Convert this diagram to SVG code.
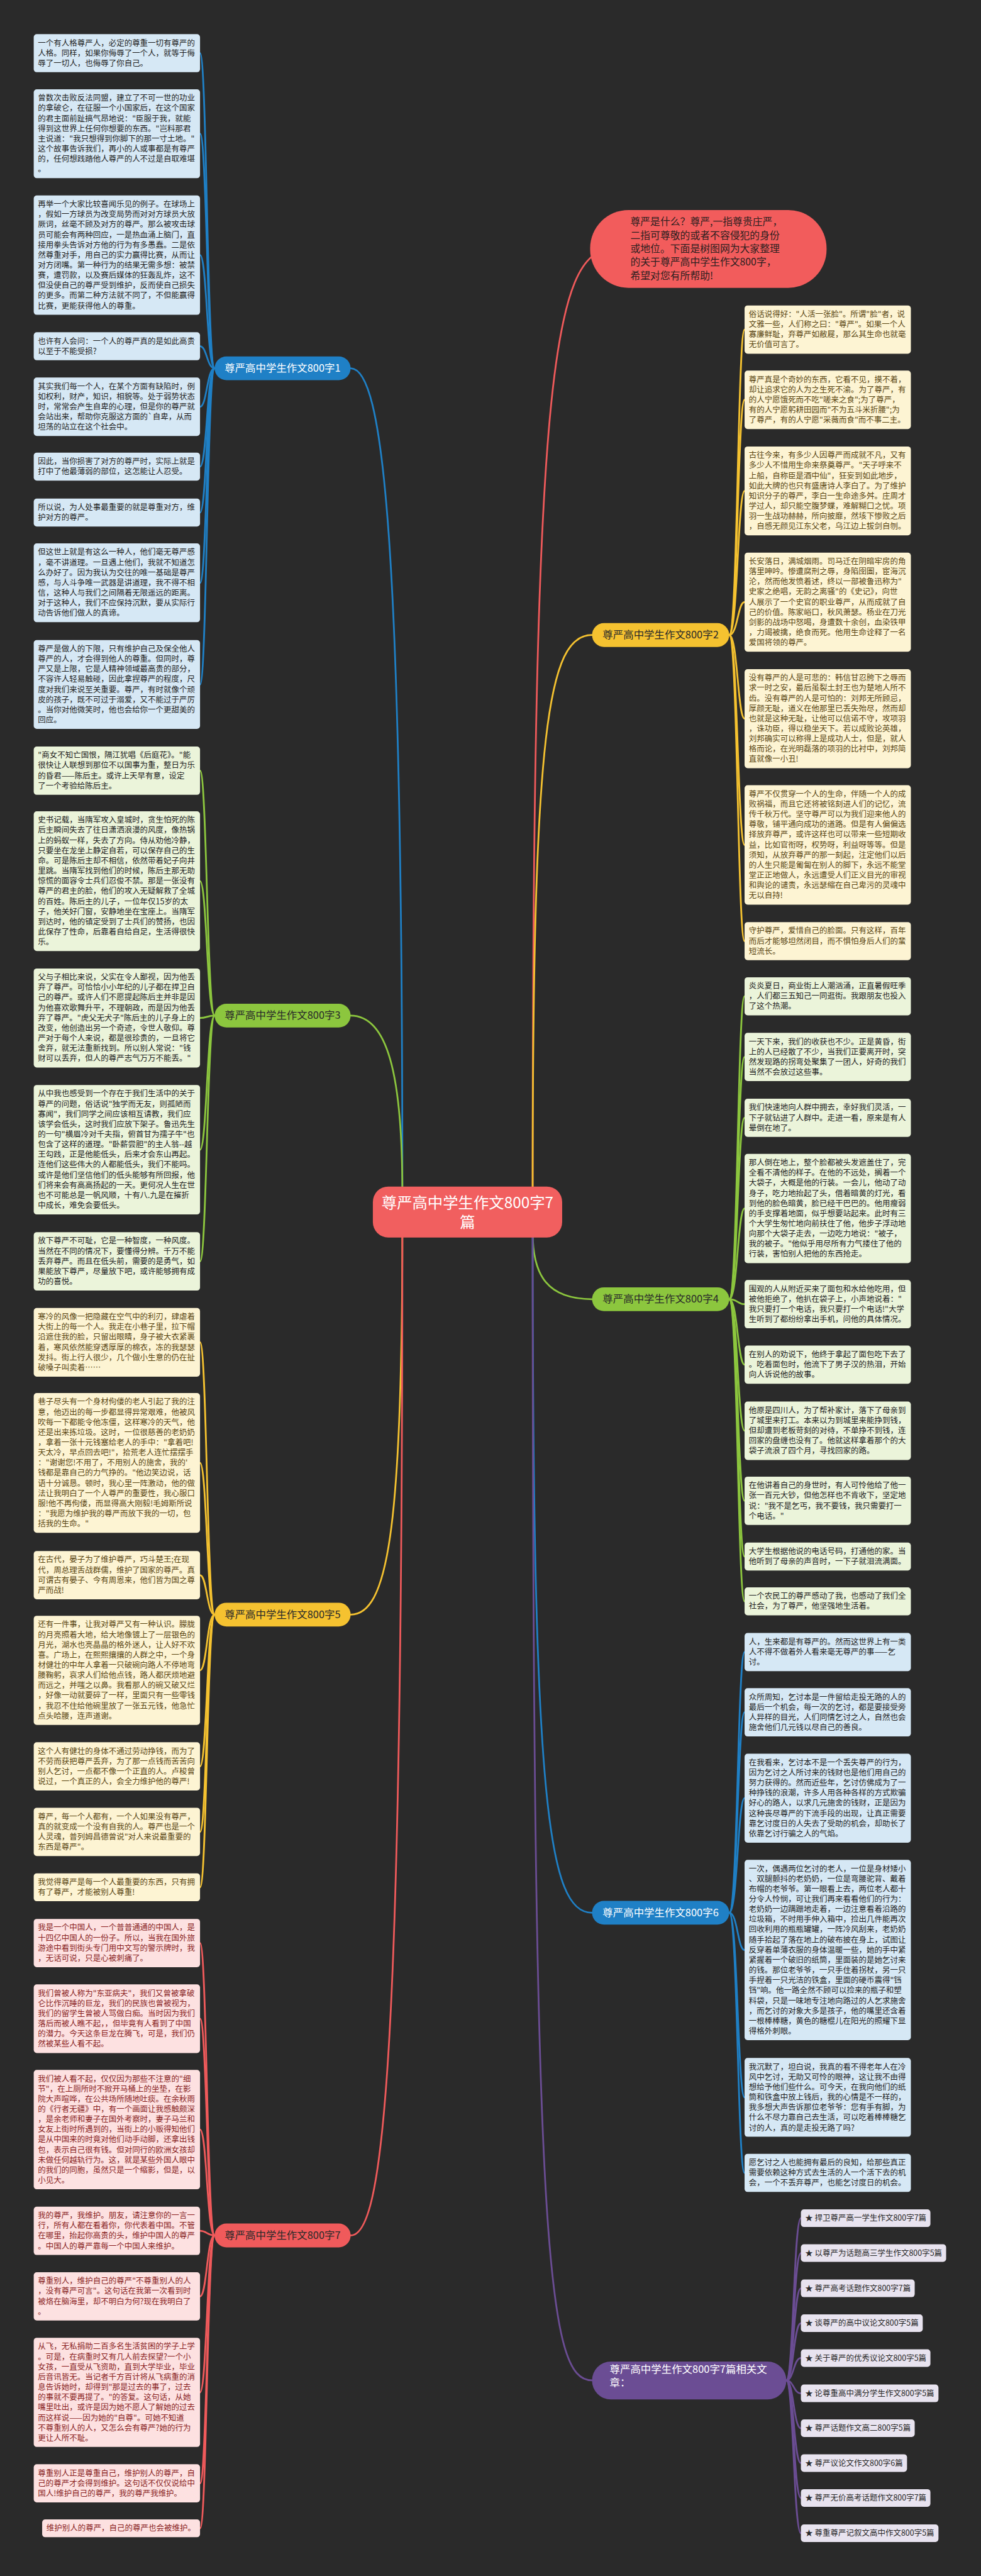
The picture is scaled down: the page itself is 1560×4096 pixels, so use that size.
<svg xmlns="http://www.w3.org/2000/svg" width="1560" height="4096" viewBox="0 0 1560 4096">
<style>
.t{font-family:"Noto Sans CJK SC","Noto Sans",sans-serif;font-size:20.5px}
.lab{font-family:"Noto Sans CJK SC","Noto Sans",sans-serif;font-size:27px}
.b{fill:#d6e8f5}.g{fill:#ebf4da}.y{fill:#fdf4d3}.r{fill:#fde1e1}.p{fill:#e8e3ef}
.tb{fill:#1f1f1f}.tg{fill:#222222}.ty{fill:#5a4612}.tr{fill:#8a1f1f}.tp{fill:#2a2a2a}
.c{fill:none;stroke-width:4.5;stroke-linecap:round}
.cb{stroke:#1f80c6}.cg{stroke:#8cc63e}.cy{stroke:#f5c230}.cr{stroke:#f05a5b}.cp{stroke:#6b4d94}
</style>
<rect width="1560" height="4096" fill="#2a2a2a"/>
<g transform="scale(0.609375)">
<g id="connectors">
<path class="c cb" d="M1050,3110 C1050,1400 1000,961 915,961"/>
<path class="c cg" d="M1050,3110 C1050,2800 1010,2650 915,2650"/>
<path class="c cy" d="M1050,3215 C1050,4000 1010,4213 915,4213"/>
<path class="c cr" d="M1050,3215 C1050,5400 1000,5833 915,5833"/>
<path class="c cr" d="M1390,3110 C1390,1000 1440,650 1600,650"/>
<path class="c cy" d="M1390,3110 C1390,1900 1430,1657 1545,1657"/>
<path class="c cg" d="M1390,3215 C1390,3330 1430,3390 1545,3390"/>
<path class="c cb" d="M1390,3215 C1390,4700 1430,4991 1545,4991"/>
<path class="c cp" d="M1390,3215 C1390,5900 1430,6211 1545,6211"/>
<path class="c cb" d="M560,961 C540,961 540,138.75 522,138.75"/>
<path class="c cb" d="M560,961 C540,961 540,349 522,349"/>
<path class="c cb" d="M560,961 C540,961 540,665.75 522,665.75"/>
<path class="c cb" d="M560,961 C540,961 540,903.5 522,903.5"/>
<path class="c cb" d="M560,961 C540,961 540,1061.25 522,1061.25"/>
<path class="c cb" d="M560,961 C540,961 540,1217.5 522,1217.5"/>
<path class="c cb" d="M560,961 C540,961 540,1337.5 522,1337.5"/>
<path class="c cb" d="M560,961 C540,961 540,1520.75 522,1520.75"/>
<path class="c cb" d="M560,961 C540,961 540,1786 522,1786"/>
<path class="c cg" d="M560,2650 C540,2650 540,2011 522,2011"/>
<path class="c cg" d="M560,2650 C540,2650 540,2299.25 522,2299.25"/>
<path class="c cg" d="M560,2650 C540,2650 540,2656.25 522,2656.25"/>
<path class="c cg" d="M560,2650 C540,2650 540,3000 522,3000"/>
<path class="c cg" d="M560,2650 C540,2650 540,3291.25 522,3291.25"/>
<path class="c cy" d="M560,4213 C540,4213 540,3502.5 522,3502.5"/>
<path class="c cy" d="M560,4213 C540,4213 540,3817.25 522,3817.25"/>
<path class="c cy" d="M560,4213 C540,4213 540,4110 522,4110"/>
<path class="c cy" d="M560,4213 C540,4213 540,4358.5 522,4358.5"/>
<path class="c cy" d="M560,4213 C540,4213 540,4609 522,4609"/>
<path class="c cy" d="M560,4213 C540,4213 540,4780 522,4780"/>
<path class="c cy" d="M560,4213 C540,4213 540,4924.5 522,4924.5"/>
<path class="c cr" d="M560,5833 C540,5833 540,5070 522,5070"/>
<path class="c cr" d="M560,5833 C540,5833 540,5267.5 522,5267.5"/>
<path class="c cr" d="M560,5833 C540,5833 540,5556.75 522,5556.75"/>
<path class="c cr" d="M560,5833 C540,5833 540,5821 522,5821"/>
<path class="c cr" d="M560,5833 C540,5833 540,5992 522,5992"/>
<path class="c cr" d="M560,5833 C540,5833 540,6242.5 522,6242.5"/>
<path class="c cr" d="M560,5833 C540,5833 540,6479.75 522,6479.75"/>
<path class="c cr" d="M560,5833 C540,5833 540,6597.25 522,6597.25"/>
<path class="c cy" d="M1903,1657 C1925,1657 1925,860 1943,860"/>
<path class="c cy" d="M1903,1657 C1925,1657 1925,1043.25 1943,1043.25"/>
<path class="c cy" d="M1903,1657 C1925,1657 1925,1281 1943,1281"/>
<path class="c cy" d="M1903,1657 C1925,1657 1925,1571.25 1943,1571.25"/>
<path class="c cy" d="M1903,1657 C1925,1657 1925,1875.25 1943,1875.25"/>
<path class="c cy" d="M1903,1657 C1925,1657 1925,2204.75 1943,2204.75"/>
<path class="c cy" d="M1903,1657 C1925,1657 1925,2455.75 1943,2455.75"/>
<path class="c cg" d="M1903,3390 C1925,3390 1925,2599.75 1943,2599.75"/>
<path class="c cg" d="M1903,3390 C1925,3390 1925,2758 1943,2758"/>
<path class="c cg" d="M1903,3390 C1925,3390 1925,2916.75 1943,2916.75"/>
<path class="c cg" d="M1903,3390 C1925,3390 1925,3153.5 1943,3153.5"/>
<path class="c cg" d="M1903,3390 C1925,3390 1925,3403 1943,3403"/>
<path class="c cg" d="M1903,3390 C1925,3390 1925,3560.75 1943,3560.75"/>
<path class="c cg" d="M1903,3390 C1925,3390 1925,3733.25 1943,3733.25"/>
<path class="c cg" d="M1903,3390 C1925,3390 1925,3916 1943,3916"/>
<path class="c cg" d="M1903,3390 C1925,3390 1925,4061.5 1943,4061.5"/>
<path class="c cg" d="M1903,3390 C1925,3390 1925,4178.5 1943,4178.5"/>
<path class="c cb" d="M1903,4991 C1925,4991 1925,4310.75 1943,4310.75"/>
<path class="c cb" d="M1903,4991 C1925,4991 1925,4468 1943,4468"/>
<path class="c cb" d="M1903,4991 C1925,4991 1925,4692 1943,4692"/>
<path class="c cb" d="M1903,4991 C1925,4991 1925,5088.25 1943,5088.25"/>
<path class="c cb" d="M1903,4991 C1925,4991 1925,5472.75 1943,5472.75"/>
<path class="c cb" d="M1903,4991 C1925,4991 1925,5669.75 1943,5669.75"/>
<path class="c cp" d="M2052,6211 C2071,6211 2071,5788 2090,5788"/>
<path class="c cp" d="M2052,6211 C2071,6211 2071,5879 2090,5879"/>
<path class="c cp" d="M2052,6211 C2071,6211 2071,5971 2090,5971"/>
<path class="c cp" d="M2052,6211 C2071,6211 2071,6062 2090,6062"/>
<path class="c cp" d="M2052,6211 C2071,6211 2071,6153 2090,6153"/>
<path class="c cp" d="M2052,6211 C2071,6211 2071,6245 2090,6245"/>
<path class="c cp" d="M2052,6211 C2071,6211 2071,6336 2090,6336"/>
<path class="c cp" d="M2052,6211 C2071,6211 2071,6427 2090,6427"/>
<path class="c cp" d="M2052,6211 C2071,6211 2071,6518 2090,6518"/>
<path class="c cp" d="M2052,6211 C2071,6211 2071,6610 2090,6610"/>
</g>

<g id="center"><rect x="973" y="3096" width="494" height="133" rx="40" fill="#f15f5f"/>
<text x="1220" y="3153" font-family="Noto Sans CJK SC, sans-serif" font-size="40" fill="#ffffff" text-anchor="middle"><tspan x="1220">尊严高中学生作文800字7</tspan><tspan x="1220" dy="51">篇</tspan></text></g>

<g id="intro"><rect x="1540" y="548" width="617" height="203" rx="100" fill="#f25c5c"/>
<text class="lab" style="font-size:26px" fill="#2d2020" x="1645" y="588"><tspan x="1645">尊严是什么？尊严,一指尊贵庄严，</tspan><tspan x="1645" dy="35">二指可尊敬的或者不容侵犯的身份</tspan><tspan x="1645" dy="35">或地位。下面是树图网为大家整理</tspan><tspan x="1645" dy="35">的关于尊严高中学生作文800字，</tspan><tspan x="1645" dy="35">希望对您有所帮助!</tspan></text></g>

<g id="b1"><rect x="560" y="930" width="355" height="62" rx="31" fill="#1f80c6"/><text class="lab" x="737.5" y="970" text-anchor="middle" fill="#ffffff">尊严高中学生作文800字1</text></g>
<g id="b3"><rect x="560" y="2619" width="355" height="62" rx="31" fill="#8cc63e"/><text class="lab" x="737.5" y="2659" text-anchor="middle" fill="#2a2a2a">尊严高中学生作文800字3</text></g>
<g id="b5"><rect x="560" y="4182" width="355" height="62" rx="31" fill="#f5c230"/><text class="lab" x="737.5" y="4222" text-anchor="middle" fill="#2a2a2a">尊严高中学生作文800字5</text></g>
<g id="b7"><rect x="560" y="5802" width="355" height="62" rx="31" fill="#f05a5b"/><text class="lab" x="737.5" y="5842" text-anchor="middle" fill="#2a2a2a">尊严高中学生作文800字7</text></g>
<g id="b2"><rect x="1545" y="1626" width="358" height="62" rx="31" fill="#f5c230"/><text class="lab" x="1724" y="1666" text-anchor="middle" fill="#2a2a2a">尊严高中学生作文800字2</text></g>
<g id="b4"><rect x="1545" y="3359" width="358" height="62" rx="31" fill="#8cc63e"/><text class="lab" x="1724" y="3399" text-anchor="middle" fill="#2a2a2a">尊严高中学生作文800字4</text></g>
<g id="b6"><rect x="1545" y="4960" width="358" height="62" rx="31" fill="#1f80c6"/><text class="lab" x="1724" y="5000" text-anchor="middle" fill="#ffffff">尊严高中学生作文800字6</text></g>
<g id="brel"><rect x="1545" y="6162" width="507" height="99" rx="49" fill="#6b4d94"/><text class="lab" x="1591" y="6191" fill="#ffffff"><tspan x="1591">尊严高中学生作文800字7篇相关文</tspan><tspan x="1591" dy="35">章：</tspan></text></g>

<g id="l1-1"><rect class="b" x="88" y="89" width="434" height="99.5" rx="8"/><text class="t tb" x="99" y="119"><tspan x="99">一个有人格尊严人，必定的尊重一切有尊严的</tspan><tspan x="99" dy="26.5">人格。同样，如果你侮辱了一个人，就等于侮</tspan><tspan x="99" dy="26.5">辱了一切人，也侮辱了你自己。</tspan></text></g>
<g id="l1-2"><rect class="b" x="88" y="233" width="434" height="232" rx="8"/><text class="t tb" x="99" y="263"><tspan x="99">曾数次击败反法同盟，建立了不可一世的功业</tspan><tspan x="99" dy="26.5">的拿破仑，在征服一个小国家后，在这个国家</tspan><tspan x="99" dy="26.5">的君主面前趾搞气昂地说："臣服于我，就能</tspan><tspan x="99" dy="26.5">得到这世界上任何你想要的东西。"岂料那君</tspan><tspan x="99" dy="26.5">主说道："我只想得到你脚下的那一寸土地。"</tspan><tspan x="99" dy="26.5">这个故事告诉我们，再小的人或事都是有尊严</tspan><tspan x="99" dy="26.5">的，任何想践踏他人尊严的人不过是自取难堪</tspan><tspan x="99" dy="26.5">。</tspan></text></g>
<g id="l1-3"><rect class="b" x="88" y="510" width="434" height="311.5" rx="8"/><text class="t tb" x="99" y="540"><tspan x="99">再举一个大家比较喜闻乐见的例子。在球场上</tspan><tspan x="99" dy="26.5">，假如一方球员为改变局势而对对方球员大放</tspan><tspan x="99" dy="26.5">厥词，丝毫不顾及对方的尊严。那么被攻击球</tspan><tspan x="99" dy="26.5">员可能会有两种回应，一是热血涌上脑门，直</tspan><tspan x="99" dy="26.5">接用拳头告诉对方他的行为有多愚蠢。二是依</tspan><tspan x="99" dy="26.5">然尊重对手，用自己的实力赢得比赛，从而让</tspan><tspan x="99" dy="26.5">对方闭嘴。第一种行为的结果无需多想：被禁</tspan><tspan x="99" dy="26.5">赛，遭罚款，以及赛后媒体的狂轰乱炸，这不</tspan><tspan x="99" dy="26.5">但没使自己的尊严受到维护，反而使自己损失</tspan><tspan x="99" dy="26.5">的更多。而第二种方法就不同了，不但能赢得</tspan><tspan x="99" dy="26.5">比赛，更能获得他人的尊重。</tspan></text></g>
<g id="l1-4"><rect class="b" x="88" y="867" width="434" height="73" rx="8"/><text class="t tb" x="99" y="897"><tspan x="99">也许有人会问：一个人的尊严真的是如此高贵</tspan><tspan x="99" dy="26.5">以至于不能受损?</tspan></text></g>
<g id="l1-5"><rect class="b" x="88" y="985" width="434" height="152.5" rx="8"/><text class="t tb" x="99" y="1015"><tspan x="99">其实我们每一个人，在某个方面有缺陷时，例</tspan><tspan x="99" dy="26.5">如权利，财产，知识，相貌等。处于弱势状态</tspan><tspan x="99" dy="26.5">时，常常会产生自卑的心理，但是你的尊严就</tspan><tspan x="99" dy="26.5">会站出来，帮助你克服这方面的`自卑，从而</tspan><tspan x="99" dy="26.5">坦荡的站立在这个社会中。</tspan></text></g>
<g id="l1-6"><rect class="b" x="88" y="1181" width="434" height="73" rx="8"/><text class="t tb" x="99" y="1211"><tspan x="99">因此，当你损害了对方的尊严时，实际上就是</tspan><tspan x="99" dy="26.5">打中了他最薄弱的部位，这怎能让人忍受。</tspan></text></g>
<g id="l1-7"><rect class="b" x="88" y="1301" width="434" height="73" rx="8"/><text class="t tb" x="99" y="1331"><tspan x="99">所以说，为人处事最重要的就是尊重对方，维</tspan><tspan x="99" dy="26.5">护对方的尊严。</tspan></text></g>
<g id="l1-8"><rect class="b" x="88" y="1418" width="434" height="205.5" rx="8"/><text class="t tb" x="99" y="1448"><tspan x="99">但这世上就是有这么一种人，他们毫无尊严感</tspan><tspan x="99" dy="26.5">，毫不讲道理。一旦遇上他们，我就不知道怎</tspan><tspan x="99" dy="26.5">么办好了。因为我认为交往的唯一基础是尊严</tspan><tspan x="99" dy="26.5">感，与人斗争唯一武器是讲道理，我不得不相</tspan><tspan x="99" dy="26.5">信，这种人与我们之间隔着无限遥远的距离。</tspan><tspan x="99" dy="26.5">对于这种人，我们不应保持沉默，要从实际行</tspan><tspan x="99" dy="26.5">动告诉他们做人的真谛。</tspan></text></g>
<g id="l1-9"><rect class="b" x="88" y="1670" width="434" height="232" rx="8"/><text class="t tb" x="99" y="1700"><tspan x="99">尊严是做人的下限，只有维护自己及保全他人</tspan><tspan x="99" dy="26.5">尊严的人，才会得到他人的尊重。但同时，尊</tspan><tspan x="99" dy="26.5">严又是上限，它是人精神领域最高贵的部分，</tspan><tspan x="99" dy="26.5">不容许人轻易触碰，因此拿捏尊严的程度，尺</tspan><tspan x="99" dy="26.5">度对我们来说至关重要。尊严，有时就像个顽</tspan><tspan x="99" dy="26.5">皮的孩子，既不可过于溺爱，又不能过于严厉</tspan><tspan x="99" dy="26.5">。当你对他微笑时，他也会给你一个更甜美的</tspan><tspan x="99" dy="26.5">回应。</tspan></text></g>

<g id="l3-1"><rect class="g" x="88" y="1948" width="434" height="126" rx="8"/><text class="t tg" x="99" y="1978"><tspan x="99">"商女不知亡国恨，隔江犹唱《后庭花》。"能</tspan><tspan x="99" dy="26.5">很快让人联想到那位不以国事为重，整日为乐</tspan><tspan x="99" dy="26.5">的昏君——陈后主。或许上天早有意，设定</tspan><tspan x="99" dy="26.5">了一个考验给陈后主。</tspan></text></g>
<g id="l3-2"><rect class="g" x="88" y="2117" width="434" height="364.5" rx="8"/><text class="t tg" x="99" y="2147"><tspan x="99">史书记载，当隋军攻入皇城时，贪生怕死的陈</tspan><tspan x="99" dy="26.5">后主瞬间失去了往日潇洒浪漫的风度，像热锅</tspan><tspan x="99" dy="26.5">上的蚂蚁一样，失去了方向。侍从劝他冷静，</tspan><tspan x="99" dy="26.5">只要坐在龙坐上静定自若，可以保存自己的生</tspan><tspan x="99" dy="26.5">命。可是陈后主却不相信，依然带着妃子向井</tspan><tspan x="99" dy="26.5">里跳。当隋军找到他们的时候，陈后主那无助</tspan><tspan x="99" dy="26.5">惊慌的面容令士兵们忍俊不禁。那是一张没有</tspan><tspan x="99" dy="26.5">尊严的君主的脸，他们的攻入无疑解救了全城</tspan><tspan x="99" dy="26.5">的百姓。陈后主的儿子，一位年仅15岁的太</tspan><tspan x="99" dy="26.5">子，他关好门窗，安静地坐在宝座上。当隋军</tspan><tspan x="99" dy="26.5">到达时，他的镇定受到了士兵们的赞扬，也因</tspan><tspan x="99" dy="26.5">此保存了性命，后靠着自给自足，生活得很快</tspan><tspan x="99" dy="26.5">乐。</tspan></text></g>
<g id="l3-3"><rect class="g" x="88" y="2527" width="434" height="258.5" rx="8"/><text class="t tg" x="99" y="2557"><tspan x="99">父与子相比来说，父实在令人鄙视，因为他丢</tspan><tspan x="99" dy="26.5">弃了尊严。可恰恰小小年纪的儿子都在捍卫自</tspan><tspan x="99" dy="26.5">己的尊严。或许人们不愿提起陈后主并非是因</tspan><tspan x="99" dy="26.5">为他喜欢歌舞升平，不理朝政，而是因为他丢</tspan><tspan x="99" dy="26.5">弃了尊严。"虎父无犬子"陈后主的儿子身上的</tspan><tspan x="99" dy="26.5">改变，他创造出另一个奇迹，令世人敬仰。尊</tspan><tspan x="99" dy="26.5">严对于每个人来说，都是很珍贵的，一旦将它</tspan><tspan x="99" dy="26.5">舍弃，就无法重新找到。所以别人常说："钱</tspan><tspan x="99" dy="26.5">财可以丢弃，但人的尊严志气万万不能丢。"</tspan></text></g>
<g id="l3-4"><rect class="g" x="88" y="2831" width="434" height="338" rx="8"/><text class="t tg" x="99" y="2861"><tspan x="99">从中我也感受到一个存在于我们生活中的关于</tspan><tspan x="99" dy="26.5">尊严的问题，俗话说"独学而无友，则孤陋而</tspan><tspan x="99" dy="26.5">寡闻"，我们同学之间应该相互请教，我们应</tspan><tspan x="99" dy="26.5">该学会低头，这时我们应放下架子。鲁迅先生</tspan><tspan x="99" dy="26.5">的一句"横眉冷对千夫指，俯首甘为孺子牛"也</tspan><tspan x="99" dy="26.5">包含了这样的道理。"卧薪尝胆"的主人翁--越</tspan><tspan x="99" dy="26.5">王勾践，正是他能低头，后来才会东山再起。</tspan><tspan x="99" dy="26.5">连他们这些伟大的人都能低头，我们不能吗。</tspan><tspan x="99" dy="26.5">或许是他们坚信他们的低头能够有所回报，他</tspan><tspan x="99" dy="26.5">们将来会有高高扬起的一天。更何况人生在世</tspan><tspan x="99" dy="26.5">也不可能总是一帆风顺，十有八.九是在摧折</tspan><tspan x="99" dy="26.5">中成长，难免会要低头。</tspan></text></g>
<g id="l3-5"><rect class="g" x="88" y="3215" width="434" height="152.5" rx="8"/><text class="t tg" x="99" y="3245"><tspan x="99">放下尊严不可耻，它是一种智度，一种风度。</tspan><tspan x="99" dy="26.5">当然在不同的情况下，要懂得分辨。千万不能</tspan><tspan x="99" dy="26.5">丢弃尊严。而且在低头前，需要的是勇气，如</tspan><tspan x="99" dy="26.5">果能放下尊严，尽量放下吧，或许能够拥有成</tspan><tspan x="99" dy="26.5">功的喜悦。</tspan></text></g>

<g id="l5-1"><rect class="y" x="88" y="3413" width="434" height="179" rx="8"/><text class="t ty" x="99" y="3443"><tspan x="99">寒冷的风像一把隐藏在空气中的利刃，肆虐着</tspan><tspan x="99" dy="26.5">大街上的每一个人。我走在小巷子里，拉下帽</tspan><tspan x="99" dy="26.5">沿遮住我的脸，只留出眼睛，身子被大衣紧裹</tspan><tspan x="99" dy="26.5">着，寒风依然能穿透厚厚的棉衣，冻的我瑟瑟</tspan><tspan x="99" dy="26.5">发抖。街上行人很少，几个做小生意的仍在扯</tspan><tspan x="99" dy="26.5">破嗓子叫卖着……</tspan></text></g>
<g id="l5-2"><rect class="y" x="88" y="3635" width="434" height="364.5" rx="8"/><text class="t ty" x="99" y="3665"><tspan x="99">巷子尽头有一个身材佝偻的老人引起了我的注</tspan><tspan x="99" dy="26.5">意，他迈出的每一步都显得异常艰难，他被风</tspan><tspan x="99" dy="26.5">吹每一下都能令他冻僵，这样寒冷的天气，他</tspan><tspan x="99" dy="26.5">还是出来拣垃圾。这时，一位很慈善的老奶奶</tspan><tspan x="99" dy="26.5">，拿着一张十元钱塞给老人的手中："拿着吧!</tspan><tspan x="99" dy="26.5">天太冷，早点回去吧!"，拾荒老人连忙摆摆手</tspan><tspan x="99" dy="26.5">："谢谢您!不用了，不用别人的施舍，我的'</tspan><tspan x="99" dy="26.5">钱都是靠自己的力气挣的。"他边笑边说，话</tspan><tspan x="99" dy="26.5">语十分诚恳。顿时，我心里一阵激动，他的做</tspan><tspan x="99" dy="26.5">法让我明白了一个人尊严的重要性，我心服口</tspan><tspan x="99" dy="26.5">服!他不再佝偻，而显得高大刚毅!毛姆斯所说</tspan><tspan x="99" dy="26.5">："我愿为维护我的尊严而放下我的一切，包</tspan><tspan x="99" dy="26.5">括我的生命。"</tspan></text></g>
<g id="l5-3"><rect class="y" x="88" y="4047" width="434" height="126" rx="8"/><text class="t ty" x="99" y="4077"><tspan x="99">在古代，晏子为了维护尊严，巧斗楚王;在现</tspan><tspan x="99" dy="26.5">代，周总理舌战群儒，维护了国家的尊严。真</tspan><tspan x="99" dy="26.5">可谓古有晏子、今有周恩来，他们皆为国之尊</tspan><tspan x="99" dy="26.5">严而战!</tspan></text></g>
<g id="l5-4"><rect class="y" x="88" y="4216" width="434" height="285" rx="8"/><text class="t ty" x="99" y="4246"><tspan x="99">还有一件事，让我对尊严又有一种认识。朦胧</tspan><tspan x="99" dy="26.5">的月亮照着大地，给大地像镀上了一层银色的</tspan><tspan x="99" dy="26.5">月光，湖水也亮晶晶的格外迷人，让人好不欢</tspan><tspan x="99" dy="26.5">喜。广场上，在熙熙攘攘的人群之中，一个身</tspan><tspan x="99" dy="26.5">材健壮的中年人拿着一只破碗向路人不停地弯</tspan><tspan x="99" dy="26.5">腰鞠躬，哀求人们给他点钱，路人都厌烦地避</tspan><tspan x="99" dy="26.5">而远之，并嗤之以鼻。我看那人的碗又破又烂</tspan><tspan x="99" dy="26.5">，好像一动就要碎了一样，里面只有一些零钱</tspan><tspan x="99" dy="26.5">，我忍不住给他碗里放了一张五元钱，他急忙</tspan><tspan x="99" dy="26.5">点头哈腰，连声道谢。</tspan></text></g>
<g id="l5-5"><rect class="y" x="88" y="4546" width="434" height="126" rx="8"/><text class="t ty" x="99" y="4576"><tspan x="99">这个人有健壮的身体不通过劳动挣钱，而为了</tspan><tspan x="99" dy="26.5">不劳而获把尊严丢弃，为了那一点钱而苦苦向</tspan><tspan x="99" dy="26.5">别人乞讨，一点都不像一个正直的人。卢梭曾</tspan><tspan x="99" dy="26.5">说过，一个真正的人，会全力维护他的尊严!</tspan></text></g>
<g id="l5-6"><rect class="y" x="88" y="4717" width="434" height="126" rx="8"/><text class="t ty" x="99" y="4747"><tspan x="99">尊严，每一个人都有，一个人如果没有尊严，</tspan><tspan x="99" dy="26.5">真的就变成一个没有自我的人。尊严也是一个</tspan><tspan x="99" dy="26.5">人灵魂，普列姆昌德曾说"对人来说最重要的</tspan><tspan x="99" dy="26.5">东西是尊严"。</tspan></text></g>
<g id="l5-7"><rect class="y" x="88" y="4888" width="434" height="73" rx="8"/><text class="t ty" x="99" y="4918"><tspan x="99">我觉得尊严是每一个人最重要的东西，只有拥</tspan><tspan x="99" dy="26.5">有了尊严，才能被别人尊重!</tspan></text></g>

<g id="l7-1"><rect class="r" x="88" y="5007" width="434" height="126" rx="8"/><text class="t tr" x="99" y="5037"><tspan x="99">我是一个中国人，一个普普通通的中国人，是</tspan><tspan x="99" dy="26.5">十四亿中国人的一份子。所以，当我在国外旅</tspan><tspan x="99" dy="26.5">游途中看到街头专门用中文写的警示牌时，我</tspan><tspan x="99" dy="26.5">，无话可说，只是心被刺痛了。</tspan></text></g>
<g id="l7-2"><rect class="r" x="88" y="5178" width="434" height="179" rx="8"/><text class="t tr" x="99" y="5208"><tspan x="99">我们曾被人称为"东亚病夫"，我们又曾被拿破</tspan><tspan x="99" dy="26.5">仑比作沉睡的巨龙，我们的民族也曾被视为，</tspan><tspan x="99" dy="26.5">我们的留学生曾被人骂做白痴。当时因为我们</tspan><tspan x="99" dy="26.5">落后而被人瞧不起，，但毕竟有人看到了中国</tspan><tspan x="99" dy="26.5">的潜力。今天这条巨龙在腾飞，可是，我们仍</tspan><tspan x="99" dy="26.5">然被某些人看不起。</tspan></text></g>
<g id="l7-3"><rect class="r" x="88" y="5401" width="434" height="311.5" rx="8"/><text class="t tr" x="99" y="5431"><tspan x="99">我们被人看不起，仅仅因为那些不注意的"细</tspan><tspan x="99" dy="26.5">节"，在上厕所时不掀开马桶上的坐垫，在影</tspan><tspan x="99" dy="26.5">院大声喧哗，在公共场所随地吐痰。在余秋雨</tspan><tspan x="99" dy="26.5">的《行者无疆》中，有一个画面让我感触颇深</tspan><tspan x="99" dy="26.5">，是余老师和妻子在国外考察时，妻子马兰和</tspan><tspan x="99" dy="26.5">女友上街时所遇到的，当街上的小贩得知他们</tspan><tspan x="99" dy="26.5">是从中国来的时竟对他们动手动脚，还拿出钱</tspan><tspan x="99" dy="26.5">包，表示自己很有钱。但对同行的欧洲女孩却</tspan><tspan x="99" dy="26.5">未做任何越轨行为。这，就是某些外国人眼中</tspan><tspan x="99" dy="26.5">的我们的同胞，虽然只是一个缩影，但是，以</tspan><tspan x="99" dy="26.5">小见大。</tspan></text></g>
<g id="l7-4"><rect class="r" x="88" y="5758" width="434" height="126" rx="8"/><text class="t tr" x="99" y="5788"><tspan x="99">我的尊严，我维护。朋友，请注意你的一言一</tspan><tspan x="99" dy="26.5">行，所有人都在看着你，你代表着中国。不管</tspan><tspan x="99" dy="26.5">在哪里，抬起你高贵的头，维护中国人的尊严</tspan><tspan x="99" dy="26.5">。中国人的尊严靠每一个中国人来维护。</tspan></text></g>
<g id="l7-5"><rect class="r" x="88" y="5929" width="434" height="126" rx="8"/><text class="t tr" x="99" y="5959"><tspan x="99">尊重别人，维护自己的尊严"不尊重别人的人</tspan><tspan x="99" dy="26.5">，没有尊严可言"。这句话在我第一次看到时</tspan><tspan x="99" dy="26.5">被烙在脑海里，却不明白为何?现在我明白了</tspan><tspan x="99" dy="26.5">。</tspan></text></g>
<g id="l7-6"><rect class="r" x="88" y="6100" width="434" height="285" rx="8"/><text class="t tr" x="99" y="6130"><tspan x="99">从飞，无私捐助二百多名生活贫困的学子上学</tspan><tspan x="99" dy="26.5">。可是，在病重时又有几人前去探望?一个小</tspan><tspan x="99" dy="26.5">女孩，一直受从飞资助，直到大学毕业，毕业</tspan><tspan x="99" dy="26.5">后音讯皆无。当记者千方百计将从飞病重的消</tspan><tspan x="99" dy="26.5">息告诉她时，却得到"那是过去的事了，过去</tspan><tspan x="99" dy="26.5">的事就不要再提了。"的答复。这句话，从她</tspan><tspan x="99" dy="26.5">嘴里吐出，或许是因为她不愿人了解她的过去</tspan><tspan x="99" dy="26.5">而这样说——因为她的"自尊"。可她不知道</tspan><tspan x="99" dy="26.5">不尊重别人的人，又怎么会有尊严?她的行为</tspan><tspan x="99" dy="26.5">更让人所不耻。</tspan></text></g>
<g id="l7-7"><rect class="r" x="88" y="6430" width="434" height="99.5" rx="8"/><text class="t tr" x="99" y="6460"><tspan x="99">尊重别人正是尊重自己，维护别人的尊严，自</tspan><tspan x="99" dy="26.5">己的尊严才会得到维护。这句话不仅仅说给中</tspan><tspan x="99" dy="26.5">国人!维护自己的尊严，我的尊严我维护。</tspan></text></g>
<g id="l7-8"><rect class="r" x="110" y="6574" width="412" height="46.5" rx="8"/><text class="t tr" x="121" y="6604">维护别人的尊严，自己的尊严也会被维护。</text></g>

<g id="r2-1"><rect class="y" x="1943" y="797" width="434" height="126" rx="8"/><text class="t ty" x="1954" y="827"><tspan x="1954">俗话说得好："人活一张脸"。所谓"脸"者，说</tspan><tspan x="1954" dy="26.5">文雅一些，人们称之曰："尊严"。如果一个人</tspan><tspan x="1954" dy="26.5">寡廉鲜耻，弃尊严如敝屣，那么其生命也就毫</tspan><tspan x="1954" dy="26.5">无价值可言了。</tspan></text></g>
<g id="r2-2"><rect class="y" x="1943" y="967" width="434" height="152.5" rx="8"/><text class="t ty" x="1954" y="997"><tspan x="1954">尊严真是个奇妙的东西，它看不见，摸不着，</tspan><tspan x="1954" dy="26.5">却让追求它的人为之生死不渝。为了尊严，有</tspan><tspan x="1954" dy="26.5">的人宁愿饿死而不吃"嗟来之食";为了尊严，</tspan><tspan x="1954" dy="26.5">有的人宁愿躬耕田园而"不为五斗米折腰";为</tspan><tspan x="1954" dy="26.5">了尊严，有的人宁愿"采薇而食"而不事二主。</tspan></text></g>
<g id="r2-3"><rect class="y" x="1943" y="1165" width="434" height="232" rx="8"/><text class="t ty" x="1954" y="1195"><tspan x="1954">古往今来，有多少人因尊严而成就不凡，又有</tspan><tspan x="1954" dy="26.5">多少人不惜用生命来祭奠尊严。"天子呼来不</tspan><tspan x="1954" dy="26.5">上船，自称臣是酒中仙"，狂妄到如此地步，</tspan><tspan x="1954" dy="26.5">如此大牌的也只有盛唐诗人李白了。为了维护</tspan><tspan x="1954" dy="26.5">知识分子的尊严，李白一生命途多舛。庄周才</tspan><tspan x="1954" dy="26.5">学过人，却只能空腹梦蝶，难解糊口之忧。项</tspan><tspan x="1954" dy="26.5">羽一生战功赫赫，所向披靡，然垓下惨败之后</tspan><tspan x="1954" dy="26.5">，自感无颜见江东父老，乌江边上拔剑自刎。</tspan></text></g>
<g id="r2-4"><rect class="y" x="1943" y="1442" width="434" height="258.5" rx="8"/><text class="t ty" x="1954" y="1472"><tspan x="1954">长安落日，满城烟雨。司马迁在阴暗牢房的角</tspan><tspan x="1954" dy="26.5">落里呻吟。惨遭腐刑之辱，身陷囹圄，宦海沉</tspan><tspan x="1954" dy="26.5">沦，然而他发愤着述，终以一部被鲁迅称为"</tspan><tspan x="1954" dy="26.5">史家之绝唱，无韵之离骚"的《史记》，向世</tspan><tspan x="1954" dy="26.5">人展示了一个史官的职业尊严，从而成就了自</tspan><tspan x="1954" dy="26.5">己的价值。陈家峪口，秋风萧瑟。杨业在刀光</tspan><tspan x="1954" dy="26.5">剑影的战场中怒喝，身遭数十余创，血染铁甲</tspan><tspan x="1954" dy="26.5">，力竭被擒，绝食而死。他用生命诠释了一名</tspan><tspan x="1954" dy="26.5">爱国将领的尊严。</tspan></text></g>
<g id="r2-5"><rect class="y" x="1943" y="1746" width="434" height="258.5" rx="8"/><text class="t ty" x="1954" y="1776"><tspan x="1954">没有尊严的人是可悲的：韩信甘忍胯下之辱而</tspan><tspan x="1954" dy="26.5">求一时之安，最后虽裂土封王也为楚地人所不</tspan><tspan x="1954" dy="26.5">齿。没有尊严的人是可怕的：刘邦无所顾忌，</tspan><tspan x="1954" dy="26.5">厚颜无耻，道义在他那里已丢失殆尽，然而却</tspan><tspan x="1954" dy="26.5">也就是这种无耻，让他可以信诺不守，攻项羽</tspan><tspan x="1954" dy="26.5">，诛功臣，得以稳坐天下。若以成败论英雄，</tspan><tspan x="1954" dy="26.5">刘邦确实可以称得上是成功人士，但是，就人</tspan><tspan x="1954" dy="26.5">格而论，在光明磊落的项羽的比衬中，刘邦简</tspan><tspan x="1954" dy="26.5">直就像一小丑!</tspan></text></g>
<g id="r2-6"><rect class="y" x="1943" y="2049" width="434" height="311.5" rx="8"/><text class="t ty" x="1954" y="2079"><tspan x="1954">尊严不仅贯穿一个人的生命，伴随一个人的成</tspan><tspan x="1954" dy="26.5">败祸福，而且它还将被铭刻进人们的记忆，流</tspan><tspan x="1954" dy="26.5">传千秋万代。坚守尊严可以为我们迎来他人的</tspan><tspan x="1954" dy="26.5">尊敬，铺平通向成功的道路。但是有人偏偏选</tspan><tspan x="1954" dy="26.5">择放弃尊严，或许这样也可以带来一些短期收</tspan><tspan x="1954" dy="26.5">益，比如官衔呀，权势呀，利益呀等等。但是</tspan><tspan x="1954" dy="26.5">须知，从放弃尊严的那一刻起，注定他们以后</tspan><tspan x="1954" dy="26.5">的人生只能是匍匐在别人的脚下，永远不能堂</tspan><tspan x="1954" dy="26.5">堂正正地做人，永远遭受人们正义目光的审视</tspan><tspan x="1954" dy="26.5">和舆论的谴责，永远瑟缩在自己卑污的灵魂中</tspan><tspan x="1954" dy="26.5">无以自持!</tspan></text></g>
<g id="r2-7"><rect class="y" x="1943" y="2406" width="434" height="99.5" rx="8"/><text class="t ty" x="1954" y="2436"><tspan x="1954">守护尊严，爱惜自己的脸面。只有这样，百年</tspan><tspan x="1954" dy="26.5">而后才能够坦然闭目，而不惧怕身后人们的蜚</tspan><tspan x="1954" dy="26.5">短流长。</tspan></text></g>

<g id="r4-1"><rect class="g" x="1943" y="2550" width="434" height="99.5" rx="8"/><text class="t tg" x="1954" y="2580"><tspan x="1954">炎炎夏日，商业街上人潮汹涌，正直暑假旺季</tspan><tspan x="1954" dy="26.5">，人们都三五知己一同逛街。我跟朋友也投入</tspan><tspan x="1954" dy="26.5">了这个热潮。</tspan></text></g>
<g id="r4-2"><rect class="g" x="1943" y="2695" width="434" height="126" rx="8"/><text class="t tg" x="1954" y="2725"><tspan x="1954">一天下来，我们的收获也不少。正是黄昏，街</tspan><tspan x="1954" dy="26.5">上的人已经散了不少，当我们正要离开时，突</tspan><tspan x="1954" dy="26.5">然发现路的拐弯处聚集了一团人，好奇的我们</tspan><tspan x="1954" dy="26.5">当然不会放过这些事。</tspan></text></g>
<g id="r4-3"><rect class="g" x="1943" y="2867" width="434" height="99.5" rx="8"/><text class="t tg" x="1954" y="2897"><tspan x="1954">我们快速地向人群中拥去，幸好我们灵活，一</tspan><tspan x="1954" dy="26.5">下子就钻进了人群中。走进一看，原来是有人</tspan><tspan x="1954" dy="26.5">晕倒在地了。</tspan></text></g>
<g id="r4-4"><rect class="g" x="1943" y="3011" width="434" height="285" rx="8"/><text class="t tg" x="1954" y="3041"><tspan x="1954">那人倒在地上，整个脸都被头发遮盖住了，完</tspan><tspan x="1954" dy="26.5">全看不清他的样子。在他的不远处，搁着一个</tspan><tspan x="1954" dy="26.5">大袋子，大概是他的行装。一会儿，他动了动</tspan><tspan x="1954" dy="26.5">身子，吃力地抬起了头，借着暗黄的灯光，看</tspan><tspan x="1954" dy="26.5">到他的脸色暗黄，脸已经干巴巴的。他用瘦弱</tspan><tspan x="1954" dy="26.5">的手支撑着地面，似乎想要站起来。此时有三</tspan><tspan x="1954" dy="26.5">个大学生匆忙地向前扶住了他，他步子浮动地</tspan><tspan x="1954" dy="26.5">向那个大袋子走去，一边吃力地说："被子，</tspan><tspan x="1954" dy="26.5">我的被子。"他似乎用尽所有力气搂住了他的</tspan><tspan x="1954" dy="26.5">行装，害怕别人把他的东西抢走。</tspan></text></g>
<g id="r4-5"><rect class="g" x="1943" y="3340" width="434" height="126" rx="8"/><text class="t tg" x="1954" y="3370"><tspan x="1954">围观的人从附近买来了面包和水给他吃用，但</tspan><tspan x="1954" dy="26.5">被他拒绝了，他扒在袋子上，小声地说着："</tspan><tspan x="1954" dy="26.5">我只要打一个电话，我只要打一个电话!"大学</tspan><tspan x="1954" dy="26.5">生听到了都纷纷拿出手机，问他的具体情况。</tspan></text></g>
<g id="r4-6"><rect class="g" x="1943" y="3511" width="434" height="99.5" rx="8"/><text class="t tg" x="1954" y="3541"><tspan x="1954">在别人的劝说下，他终于拿起了面包吃下去了</tspan><tspan x="1954" dy="26.5">。吃着面包时，他流下了男子汉的热泪，开始</tspan><tspan x="1954" dy="26.5">向人诉说他的故事。</tspan></text></g>
<g id="r4-7"><rect class="g" x="1943" y="3657" width="434" height="152.5" rx="8"/><text class="t tg" x="1954" y="3687"><tspan x="1954">他原是四川人，为了帮补家计，落下了母亲到</tspan><tspan x="1954" dy="26.5">了城里来打工。本来以为到城里来能挣到钱，</tspan><tspan x="1954" dy="26.5">但却遭到老板苛刻的对待，不单挣不到钱，连</tspan><tspan x="1954" dy="26.5">回家的盘缠也没有了。他就这样拿着那个的大</tspan><tspan x="1954" dy="26.5">袋子流浪了四个月，寻找回家的路。</tspan></text></g>
<g id="r4-8"><rect class="g" x="1943" y="3853" width="434" height="126" rx="8"/><text class="t tg" x="1954" y="3883"><tspan x="1954">在他讲着自己的身世时，有人可怜他给了他一</tspan><tspan x="1954" dy="26.5">张一百元大钞，但他怎样也不肯收下，坚定地</tspan><tspan x="1954" dy="26.5">说："我不是乞丐，我不要钱，我只需要打一</tspan><tspan x="1954" dy="26.5">个电话。"</tspan></text></g>
<g id="r4-9"><rect class="g" x="1943" y="4025" width="434" height="73" rx="8"/><text class="t tg" x="1954" y="4055"><tspan x="1954">大学生根据他说的电话号码，打通他的家。当</tspan><tspan x="1954" dy="26.5">他听到了母亲的声音时，一下子就泪流满面。</tspan></text></g>
<g id="r4-10"><rect class="g" x="1943" y="4142" width="434" height="73" rx="8"/><text class="t tg" x="1954" y="4172"><tspan x="1954">一个农民工的尊严感动了我，也感动了我们全</tspan><tspan x="1954" dy="26.5">社会，为了尊严，他坚强地生活着。</tspan></text></g>

<g id="r6-1"><rect class="b" x="1943" y="4261" width="434" height="99.5" rx="8"/><text class="t tb" x="1954" y="4291"><tspan x="1954">人，生来都是有尊严的。然而这世界上有一类</tspan><tspan x="1954" dy="26.5">人不得不做着外人看来毫无尊严的事——乞</tspan><tspan x="1954" dy="26.5">讨。</tspan></text></g>
<g id="r6-2"><rect class="b" x="1943" y="4405" width="434" height="126" rx="8"/><text class="t tb" x="1954" y="4435"><tspan x="1954">众所周知，乞讨本是一件留给走投无路的人的</tspan><tspan x="1954" dy="26.5">最后一个机会，每一次的乞讨，都是要接受旁</tspan><tspan x="1954" dy="26.5">人异样的目光，人们同情乞讨之人，自然也会</tspan><tspan x="1954" dy="26.5">施舍他们几元钱以尽自己的善良。</tspan></text></g>
<g id="r6-3"><rect class="b" x="1943" y="4576" width="434" height="232" rx="8"/><text class="t tb" x="1954" y="4606"><tspan x="1954">在我看来，乞讨本不是一个丢失尊严的行为，</tspan><tspan x="1954" dy="26.5">因为乞讨之人所讨来的钱财也是他们用自己的</tspan><tspan x="1954" dy="26.5">努力获得的。然而近些年，乞讨仿佛成为了一</tspan><tspan x="1954" dy="26.5">种挣钱的浪潮，许多人用各种各样的方式欺骗</tspan><tspan x="1954" dy="26.5">好心的路人，以求几元施舍的钱财，正是因为</tspan><tspan x="1954" dy="26.5">这种丧尽尊严的下流手段的出现，让真正需要</tspan><tspan x="1954" dy="26.5">靠乞讨度日的人失去了受助的机会，却助长了</tspan><tspan x="1954" dy="26.5">依靠乞讨行骗之人的气焰。</tspan></text></g>
<g id="r6-4"><rect class="b" x="1943" y="4853" width="434" height="470.5" rx="8"/><text class="t tb" x="1954" y="4883"><tspan x="1954">一次，偶遇两位乞讨的老人，一位是身材矮小</tspan><tspan x="1954" dy="26.5">、双腿颤抖的老奶奶，一位是弯腰驼背、戴着</tspan><tspan x="1954" dy="26.5">布帽的老爷爷。第一眼看上去，两位老人都十</tspan><tspan x="1954" dy="26.5">分令人怜悯，可让我们再来看看他们的行为：</tspan><tspan x="1954" dy="26.5">老奶奶一边蹒跚地走着，一边注意看着沿路的</tspan><tspan x="1954" dy="26.5">垃圾箱，不时用手伸入箱中，捡出几件能再次</tspan><tspan x="1954" dy="26.5">回收利用的瓶瓶罐罐，一阵冷风刮来，老奶奶</tspan><tspan x="1954" dy="26.5">随手拾起了落在地上的破布披在身上，试图让</tspan><tspan x="1954" dy="26.5">反穿着单薄衣服的身体温暖一些，她的手中紧</tspan><tspan x="1954" dy="26.5">紧握着一个破旧的纸筒，里面装的是她乞讨来</tspan><tspan x="1954" dy="26.5">的钱。那位老爷爷，一只手住着拐杖，另一只</tspan><tspan x="1954" dy="26.5">手捏着一只光洁的铁盒，里面的硬币震得"铛</tspan><tspan x="1954" dy="26.5">铛"响。他一路全然不顾可以捡来的瓶子和塑</tspan><tspan x="1954" dy="26.5">料袋，只是一味地专注地向路过的人乞求施舍</tspan><tspan x="1954" dy="26.5">，而乞讨的对象大多是孩子，他的嘴里还含着</tspan><tspan x="1954" dy="26.5">一根棒棒糖，黄色的糖棍儿在阳光的照耀下显</tspan><tspan x="1954" dy="26.5">得格外刺眼。</tspan></text></g>
<g id="r6-5"><rect class="b" x="1943" y="5370" width="434" height="205.5" rx="8"/><text class="t tb" x="1954" y="5400"><tspan x="1954">我沉默了，坦白说，我真的看不得老年人在冷</tspan><tspan x="1954" dy="26.5">风中乞讨，无助又可怜的眼神，这让我不由得</tspan><tspan x="1954" dy="26.5">想给予他们些什么。可今天，在我向他们的纸</tspan><tspan x="1954" dy="26.5">筒和铁盒中放上钱后，我的心情是不一样的，</tspan><tspan x="1954" dy="26.5">我多想大声告诉那位老爷爷：您有手有脚，为</tspan><tspan x="1954" dy="26.5">什么不尽力靠自己去生活，可以吃着棒棒糖乞</tspan><tspan x="1954" dy="26.5">讨的人，真的是走投无路了吗?</tspan></text></g>
<g id="r6-6"><rect class="b" x="1943" y="5620" width="434" height="99.5" rx="8"/><text class="t tb" x="1954" y="5650"><tspan x="1954">愿乞讨之人也能拥有最后的良知，给那些真正</tspan><tspan x="1954" dy="26.5">需要依赖这种方式去生活的人一个活下去的机</tspan><tspan x="1954" dy="26.5">会，一个不丢弃尊严，也能乞讨度日的机会。</tspan></text></g>

<g id="rel-1"><rect class="p" x="2090" y="5765" width="338" height="46" rx="8"/><text class="t tp" x="2101" y="5795">★ 捍卫尊严高一学生作文800字7篇</text></g>
<g id="rel-2"><rect class="p" x="2090" y="5856" width="379" height="46" rx="8"/><text class="t tp" x="2101" y="5886">★ 以尊严为话题高三学生作文800字5篇</text></g>
<g id="rel-3"><rect class="p" x="2090" y="5948" width="297" height="46" rx="8"/><text class="t tp" x="2101" y="5978">★ 尊严高考话题作文800字7篇</text></g>
<g id="rel-4"><rect class="p" x="2090" y="6039" width="318" height="46" rx="8"/><text class="t tp" x="2101" y="6069">★ 谈尊严的高中议论文800字5篇</text></g>
<g id="rel-5"><rect class="p" x="2090" y="6130" width="338" height="46" rx="8"/><text class="t tp" x="2101" y="6160">★ 关于尊严的优秀议论文800字5篇</text></g>
<g id="rel-6"><rect class="p" x="2090" y="6222" width="359" height="46" rx="8"/><text class="t tp" x="2101" y="6252">★ 论尊重高中满分学生作文800字5篇</text></g>
<g id="rel-7"><rect class="p" x="2090" y="6313" width="297" height="46" rx="8"/><text class="t tp" x="2101" y="6343">★ 尊严话题作文高二800字5篇</text></g>
<g id="rel-8"><rect class="p" x="2090" y="6404" width="277" height="46" rx="8"/><text class="t tp" x="2101" y="6434">★ 尊严议论文作文800字6篇</text></g>
<g id="rel-9"><rect class="p" x="2090" y="6495" width="338" height="46" rx="8"/><text class="t tp" x="2101" y="6525">★ 尊严无价高考话题作文800字7篇</text></g>
<g id="rel-10"><rect class="p" x="2090" y="6587" width="359" height="46" rx="8"/><text class="t tp" x="2101" y="6617">★ 尊重尊严记叙文高中作文800字5篇</text></g>
</g>
</svg>
